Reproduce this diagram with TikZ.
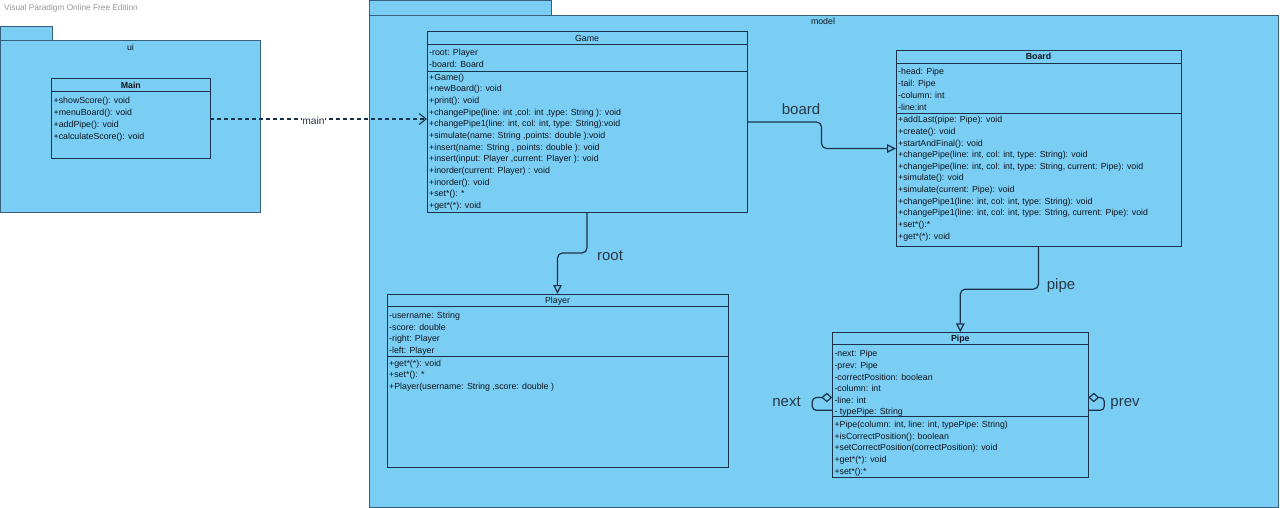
\documentclass[tikz,border=0pt]{standalone}
\usepackage{fontspec}
\setmainfont{Liberation Sans}
\usetikzlibrary{arrows.meta,calc}
\definecolor{pkgfill}{RGB}{122,206,244}
\definecolor{pkgline}{RGB}{55,95,125}
\definecolor{clsline}{RGB}{25,50,75}
\definecolor{txtc}{RGB}{15,20,30}
\definecolor{lblc}{RGB}{40,55,70}
\definecolor{wmc}{RGB}{150,150,150}
\begin{document}
\begin{tikzpicture}[x=1pt,y=-1pt,
  pkg/.style={draw=pkgline,fill=pkgfill,line width=0.9pt,inner sep=0pt,outer sep=0pt,anchor=north west},
  cls/.style={draw=clsline,line width=1pt,inner sep=0pt,outer sep=0pt,anchor=north west},
  sep/.style={draw=clsline,line width=0.9pt},
  ln/.style={font=\fontsize{8.8}{10}\selectfont,text=txtc,inner sep=0pt,anchor=west,text height=6.4pt,text depth=1.8pt,yshift=-1.2pt},
  ttl/.style={font=\fontsize{8.8}{10}\selectfont,text=txtc,inner sep=0pt,text height=6.4pt,text depth=1.8pt,yshift=-0.8pt},
  plbl/.style={font=\fontsize{8.8}{10}\selectfont,text=txtc,inner sep=0pt},
  albl/.style={font=\fontsize{15}{17}\selectfont,text=lblc,inner sep=0pt,anchor=base},
  wm/.style={font=\fontsize{8.3}{10}\selectfont,text=wmc,inner sep=0pt},
  assoc/.style={draw=clsline,line width=1.2pt,rounded corners=5pt,-{Triangle[open,length=9pt,width=8.5pt]}},
  selfl/.style={draw=clsline,line width=1.2pt,rounded corners=4pt,{Diamond[open,length=11pt,width=9.5pt]}-},
  dep/.style={draw=clsline,line width=1.1pt,dash pattern=on 4pt off 3pt,-{Straight Barb[length=7pt,width=11pt]}}
]
\useasboundingbox (0,0) rectangle (1280,508);
\fill[white] (0,0) rectangle (1280,508);

% watermarks
\node[wm,anchor=west] (wm1) at (4,8) {Visual Paradigm Online Free Edition};
\node[wm,anchor=east] (wm2) at (1276,501) {Visual Paradigm Online Free Edition};

% packages
\node[pkg,anchor=south west,minimum width=52pt,minimum height=14pt] (uitab) at (0.5,40) {};
\node[pkg,minimum width=260pt,minimum height=172pt] (ui) at (0.5,40) {};
\node[plbl] (uilbl) at (130.5,47) {ui};
\node[pkg,anchor=south west,minimum width=182pt,minimum height=14.5pt] (mtab) at (369.5,15) {};
\node[pkg,minimum width=909pt,minimum height=492pt] (model) at (369.5,15) {};
\node[plbl] (mlbl) at (823,21) {model};

% Main
\node[cls,minimum width=159pt,minimum height=80pt] (main) at (51.3,79) {};
\draw[sep] ($(main.north west)+(0,12)$) -- ($(main.north east)+(0,12)$);
\node[ttl,font=\fontsize{8.8}{10}\selectfont\bfseries] (maint) at ($(main.north)+(0,6)$) {Main};
\foreach \t [count=\i] in {{+showScore(): void},{+menuBoard(): void},{+addPipe(): void},{+calculateScore(): void}}
  \node[ln] (mm\i) at (53.5,{100+12*(\i-1)}) {\t};

% Game
\node[cls,minimum width=320pt,minimum height=180pt] (game) at (427,32) {};
\draw[sep] ($(game.north west)+(0,12)$) -- ($(game.north east)+(0,12)$);
\draw[sep] ($(game.north west)+(0,39.5)$) -- ($(game.north east)+(0,39.5)$);
\node[ttl] (gamet) at ($(game.north)+(0,6)$) {Game};
\foreach \t [count=\i] in {{-root: Player},{-board: Board}}
  \node[ln] (ga\i) at (429,{51.7+12.2*(\i-1)}) {\t};
\foreach \t [count=\i] in {{+Game()},{+newBoard(): void},{+print(): void},{+changePipe(line: int ,col: int ,type: String ): void},{+changePipe1(line: int, col: int, type: String):void},{+simulate(name: String ,points: double ):void},{+insert(name: String , points: double ): void},{+insert(input: Player ,current: Player ): void},{+inorder(current: Player) : void},{+inorder(): void},{+set*(): *},{+get*(*): void}}
  \node[ln] (gm\i) at (429,{76.8+11.66*(\i-1)}) {\t};

% Board
\node[cls,minimum width=285pt,minimum height=195pt] (board) at (896,51) {};
\draw[sep] ($(board.north west)+(0,12)$) -- ($(board.north east)+(0,12)$);
\draw[sep] ($(board.north west)+(0,62.3)$) -- ($(board.north east)+(0,62.3)$);
\node[ttl,font=\fontsize{8.8}{10}\selectfont\bfseries] (boardt) at ($(board.north)+(0,5.5)$) {Board};
\foreach \t [count=\i] in {{-head: Pipe},{-tail: Pipe},{-column: int},{-line:int}}
  \node[ln] (ba\i) at (898,{71.2+11.8*(\i-1)}) {\t};
\foreach \t [count=\i] in {{+addLast(pipe: Pipe): void},{+create(): void},{+startAndFinal(): void},{+changePipe(line: int, col: int, type: String): void},{+changePipe(line: int, col: int, type: String, current: Pipe): void},{+simulate(): void},{+simulate(current: Pipe): void},{+changePipe1(line: int, col: int, type: String): void},{+changePipe1(line: int, col: int, type: String, current: Pipe): void},{+set*():*},{+get*(*): void}}
  \node[ln] (bm\i) at (898,{119.2+11.66*(\i-1)}) {\t};

% Player
\node[cls,minimum width=341pt,minimum height=173pt] (player) at (387,294) {};
\draw[sep] ($(player.north west)+(0,12)$) -- ($(player.north east)+(0,12)$);
\draw[sep] ($(player.north west)+(0,62.5)$) -- ($(player.north east)+(0,62.5)$);
\node[ttl] (playert) at ($(player.north)+(0,6)$) {Player};
\foreach \t [count=\i] in {{-username: String},{-score: double},{-right: Player},{-left: Player}}
  \node[ln] (pa\i) at (389,{315+11.7*(\i-1)}) {\t};
\foreach \t [count=\i] in {{+get*(*): void},{+set*(): *},{+Player(username: String ,score: double )}}
  \node[ln] (pm\i) at (389,{362.7+11.7*(\i-1)}) {\t};

% Pipe
\node[cls,minimum width=256pt,minimum height=145pt] (pipe) at (832.3,332.3) {};
\draw[sep] ($(pipe.north west)+(0,12)$) -- ($(pipe.north east)+(0,12)$);
\draw[sep] ($(pipe.north west)+(0,84.4)$) -- ($(pipe.north east)+(0,84.4)$);
\node[ttl,font=\fontsize{8.8}{10}\selectfont\bfseries] (pipet) at ($(pipe.north)+(0,6)$) {Pipe};
\foreach \t [count=\i] in {{-next: Pipe},{-prev: Pipe},{-correctPosition: boolean},{-column: int},{-line: int},{- typePipe: String}}
  \node[ln] (qa\i) at (834.3,{353.3+11.6*(\i-1)}) {\t};
\foreach \t [count=\i] in {{+Pipe(column: int, line: int, typePipe: String)},{+isCorrectPosition(): boolean},{+setCorrectPosition(correctPosition): void},{+get*(*): void},{+set*():*}}
  \node[ln] (qm\i) at (834.3,{424+11.66*(\i-1)}) {\t};

% connectors
\draw[dep] (main.east) -- (main.east -| game.west);
\node[font=\fontsize{10.3}{12}\selectfont,text=lblc,fill=white,inner sep=0.6pt] (mainlbl) at (313.5,121) {main};

\draw[assoc] (game.east) -| ($(game.east)!0.5!(board.west)$) |- (board.west);
\node[albl] (boardlbl) at (801,114.5) {board};

\draw[assoc] (game.south) |- ($(game.south)!0.5!(player.north)$) -| (player.north);
\node[albl] (rootlbl) at (610,260.5) {root};

\draw[assoc] (board.south) |- ($(board.south)!0.5!(pipe.north)$) -| (pipe.north);
\node[albl] (pipelbl) at (1061,289.5) {pipe};

\coordinate (n1) at ($(pipe.west)+(0,-7.3)$);
\coordinate (n2) at ($(pipe.west)+(0,5.5)$);
\draw[selfl] (n1) -- ++(-20,0) |- (n2);
\node[albl] (nextlbl) at (786.5,406.5) {next};

\coordinate (p1) at ($(pipe.east)+(0,-7.3)$);
\coordinate (p2) at ($(pipe.east)+(0,5.5)$);
\draw[selfl] (p1) -- ++(16,0) |- (p2);
\node[albl] (prevlbl) at (1125,406.5) {prev};
\end{tikzpicture}
\end{document}
